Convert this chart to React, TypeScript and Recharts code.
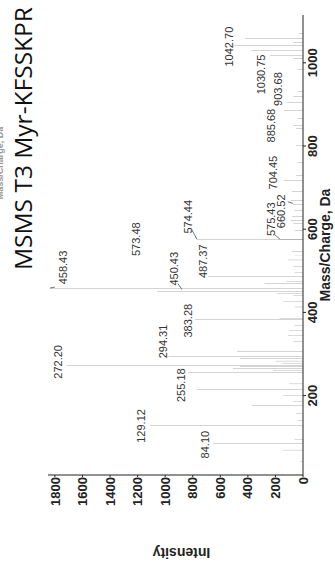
import { ComposedChart, Bar, Scatter, XAxis, YAxis, ReferenceLine, Label } from 'recharts';

// peak list (m/z, counts)
const peakMz = [
  41, 69, 84.1, 95, 110.6, 129.12, 140, 157, 177, 185, 201, 215, 228, 255.18, 261, 266, 269, 272.2, 278, 283,
  290, 294.31, 305, 312, 330, 345, 356, 368, 383.28, 386, 401.5, 413, 425.6, 440, 446, 450.43, 458.43, 470, 474,
  487.37, 496, 510, 526, 538, 546, 557.8, 565, 573.48, 574.44, 575.43, 598, 613, 620, 631, 644, 660.52, 668, 690,
  704.45, 718, 730, 760, 802, 842, 850, 866, 885.68, 903.68, 918, 930, 985, 1002.6, 1010.7, 1018.7, 1030.75,
  1042.7, 1050, 1059, 1070,
];
const peakInt = [
  20, 145, 651, 60, 481, 1110, 40, 50, 372, 70, 145, 771, 100, 834, 218, 508, 457, 1715, 150, 200,
  457, 977, 479, 334, 70, 110, 100, 60, 784, 170, 747, 60, 145, 70, 189, 1060, 1836, 280, 120,
  689, 60, 70, 110, 60, 80, 493, 100, 1134, 770, 167, 60, 70, 90, 80, 60, 72, 90, 80,
  150, 143, 50, 40, 50, 50, 70, 40, 140, 120, 70, 40, 40, 50, 70, 240, 375,
  500, 70, 420, 30,
];

// peak annotations: text, centre m/z, baseline counts
const labelText = [
  '84.10', '129.12', '255.18', '272.20', '294.31', '383.28', '450.43', '458.43', '487.37',
  '573.48', '574.44', '575.43', '660.52', '704.45', '885.68', '903.68', '1030.75', '1042.70',
];
const labelMz = [82, 127, 225, 281, 330, 380, 505, 508, 523, 576, 630, 624, 643, 736, 849, 937, 972, 1039];
const labelInt = [680, 1147, 856, 1745, 985, 805, 907, 1713, 700, 1183, 805, 203, 130, 189, 203, 152, 276, 508];

// leader lines from label to peak
const leaderFromMz = [461, 469, 598, 586, 666];
const leaderFromInt = [1800, 907, 805, 203, 110];
const leaderToMz = [458.43, 455, 576, 576, 662];
const leaderToInt = [1836, 878, 770, 167, 72];

const mzTicks = [200, 400, 600, 800, 1000];
const intTicks = [0, 200, 400, 600, 800, 1000, 1200, 1400, 1600, 1800];

const peaks = peakMz.map((m, k) => ({ m, i: peakInt[k] }));
const labels = labelText.map((t, k) => ({ m: labelMz[k], i: labelInt[k], t }));

const FONT = '"Liberation Sans", Arial, sans-serif';

const renderYTitle = (props: any) => {
  const { x, y, height } = props.viewBox;
  const cx = x + 9;
  const cy = y + height / 2 + 6;
  return (
    <text x={cx} y={cy} transform={`rotate(-90 ${cx} ${cy})`} textAnchor="middle" dominantBaseline="central"
      fontFamily={FONT} fontWeight="bold" fontSize={14} fill="#222">
      Intensity
    </text>
  );
};

const renderXTitle = (props: any) => {
  const { x, y, width } = props.viewBox;
  return (
    <text x={x + width / 2} y={y + 27} textAnchor="middle" fontFamily={FONT} fontWeight="bold" fontSize={14} fill="#222">
      Mass/Charge, Da
    </text>
  );
};

const PeakLabel = (p: any) => (
  <text x={p.cx} y={p.cy} textAnchor="middle" fontFamily={FONT} fontSize={11} fill="#333">
    {p.payload.t}
  </text>
);

export default function App() {
  return (
    <div style={{ position: 'fixed', left: 0, top: 0, width: 335, height: 562, overflow: 'hidden', background: '#fff' }}>
      <div
        style={{
          position: 'absolute', left: 0, top: 0, width: 562, height: 335,
          transform: 'translateY(562px) rotate(-90deg)', transformOrigin: '0 0', background: '#fff',
        }}
      >
        <ComposedChart width={562} height={335} data={peaks} margin={{ top: 48, right: 15, bottom: 0, left: 0 }}>
          <XAxis
            dataKey="m" type="number" domain={[9, 1115]} ticks={mzTicks} allowDataOverflow
            height={32} tickSize={3} tickMargin={2} stroke="#222"
            tick={{ fontFamily: FONT, fontSize: 13, fontWeight: 'bold', fill: '#222' }}
          >
            <Label content={renderXTitle} />
          </XAxis>
          <YAxis
            dataKey="i" type="number" domain={[0, 1850]} ticks={intTicks} allowDataOverflow
            width={87} tickSize={2} tickMargin={0} stroke="#222"
            tick={{ fontFamily: FONT, fontSize: 13, fontWeight: 'bold', fill: '#222' }}
          >
            <Label content={renderYTitle} />
          </YAxis>
          <Bar dataKey="i" fill="#555" barSize={1} isAnimationActive={false} />
          {leaderFromMz.map((m, k) => (
            <ReferenceLine
              key={k}
              segment={[{ x: m, y: leaderFromInt[k] }, { x: leaderToMz[k], y: leaderToInt[k] }]}
              stroke="#777" ifOverflow="visible"
            />
          ))}
          <Scatter data={labels} dataKey="i" shape={PeakLabel} isAnimationActive={false} />
        </ComposedChart>
        <svg width={562} height={335} style={{ position: 'absolute', left: 0, top: 0, pointerEvents: 'none' }}>
          <text x={399} y={3} textAnchor="middle" fontFamily={FONT} fontWeight="bold" fontSize={9} fill="#999">
            Mass/Charge, Da
          </text>
          <text x={292} y={32} fontFamily='"Open Sans", sans-serif' fontSize={24} fill="#111"
            textLength={263} lengthAdjust="spacingAndGlyphs">
            MSMS T3 Myr-KFSSKPR
          </text>
        </svg>
      </div>
    </div>
  );
}
